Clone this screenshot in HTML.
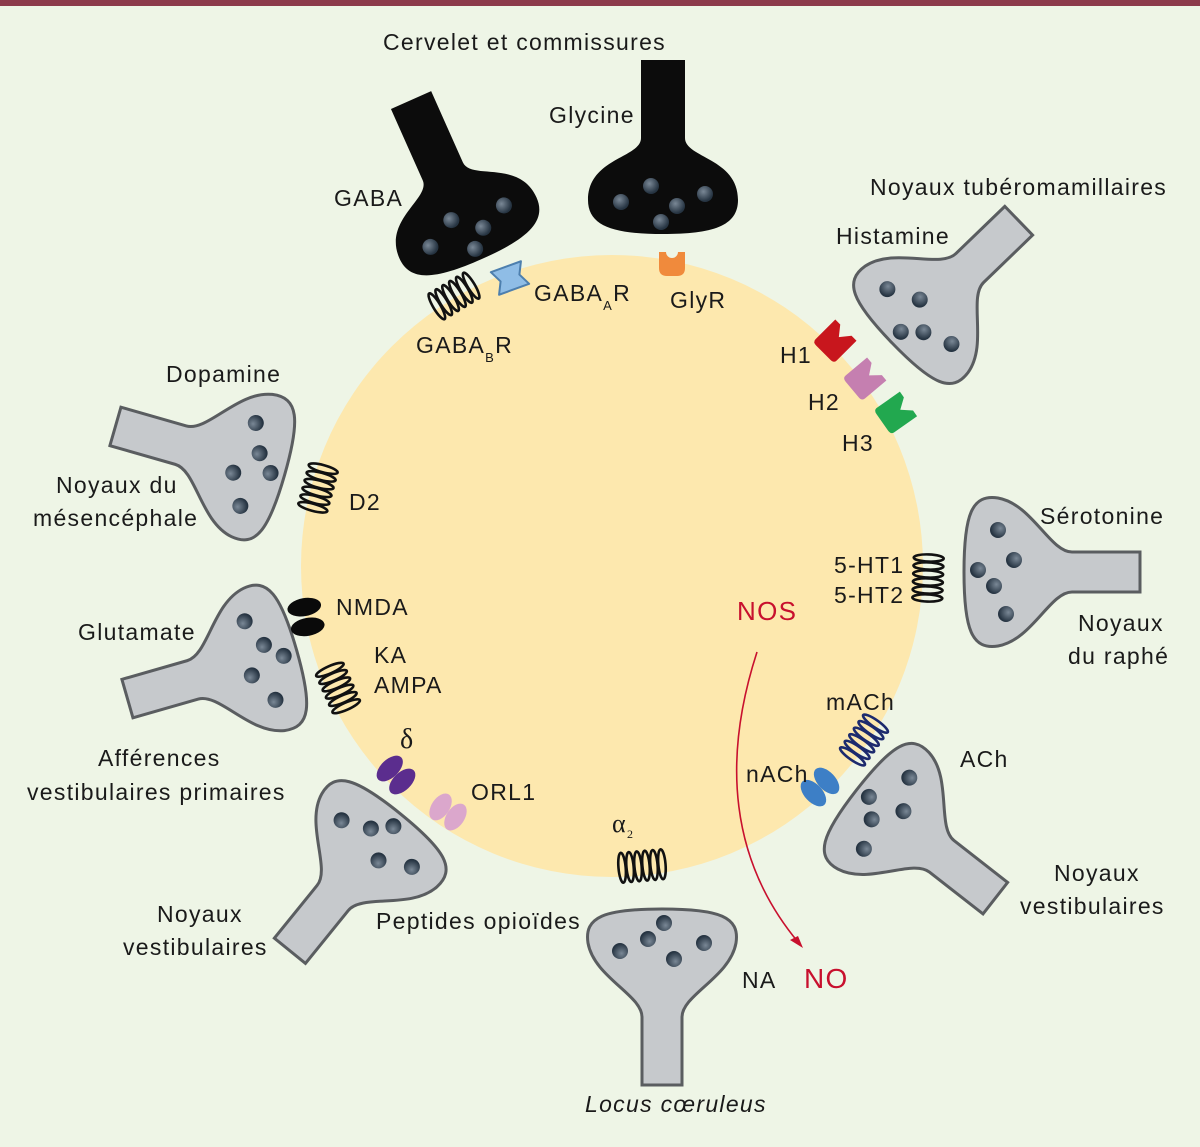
<!DOCTYPE html>
<html><head><meta charset="utf-8"><style>
html,body{margin:0;padding:0;background:#eef5e6;}
svg{display:block;}
text{font-family:"Liberation Sans",sans-serif;font-size:23px;fill:#1a1a1a;letter-spacing:1.3px;}
</style></head><body>
<svg width="1200" height="1147" viewBox="0 0 1200 1147" xmlns="http://www.w3.org/2000/svg">
<defs>
<radialGradient id="ves" cx="0.4" cy="0.35" r="0.6"><stop offset="0" stop-color="#7a8896"/><stop offset="1" stop-color="#263442"/></radialGradient>
<g id="dots">
<circle cx="-42" cy="2" r="8" fill="url(#ves)"/><circle cx="-12" cy="-14" r="8" fill="url(#ves)"/>
<circle cx="14" cy="6" r="8" fill="url(#ves)"/><circle cx="42" cy="-6" r="8" fill="url(#ves)"/>
<circle cx="-2" cy="22" r="8" fill="url(#ves)"/>
</g>
<g id="gterm">
<path d="M -20,-140 L -20,-72 C -20,-50 -68,-32 -74,2 C -78,28 -58,36 0,36 C 58,36 78,28 74,2 C 68,-32 20,-50 20,-72 L 20,-140 Z" fill="#c6c9cc" stroke="#5a5d60" stroke-width="3"/>
<use href="#dots"/>
</g>
<g id="bterm">
<path d="M -22,-140 L -22,-62 C -22,-42 -75,-42 -75,0 C -75,26 -50,34 0,34 C 50,34 75,26 75,0 C 75,-42 22,-42 22,-62 L 22,-140 Z" fill="#0c0c0c"/>
<use href="#dots"/>
</g>
<g id="gpcr" fill="none" stroke-width="2.6">
<ellipse cx="-20" cy="0" rx="3.6" ry="15"/><ellipse cx="-12" cy="0" rx="3.6" ry="15"/>
<ellipse cx="-4" cy="0" rx="3.6" ry="15"/><ellipse cx="4" cy="0" rx="3.6" ry="15"/>
<ellipse cx="12" cy="0" rx="3.6" ry="15"/><ellipse cx="20" cy="0" rx="3.6" ry="15"/>
</g>
<path id="cup" d="M -15,-14 Q -15,-18 -10,-18 L 10,-18 Q 15,-18 15,-14 L 15,14 L 8,14 L 0,4 L -8,14 L -15,14 Z"/>
</defs>
<rect x="0" y="0" width="1200" height="6" fill="#8c3b4b"/>
<circle cx="612" cy="566" r="311" fill="#fde8ae"/>

<use href="#bterm" transform="translate(468,228) rotate(-24)"/>
<use href="#bterm" transform="translate(663,200)"/>
<use href="#gterm" transform="translate(918,318) rotate(46)"/>
<use href="#gterm" transform="translate(250,465) rotate(-74)"/>
<use href="#gterm" transform="translate(1000,572) rotate(90)"/>
<use href="#gterm" transform="translate(262,660) rotate(-106)"/>
<use href="#gterm" transform="translate(885,812) rotate(128)"/>
<use href="#gterm" transform="translate(378,842) rotate(-141)"/>
<use href="#gterm" transform="translate(662,945) rotate(180)"/>

<use href="#gpcr" stroke="#111" transform="translate(454,296) rotate(-31)"/>
<use href="#gpcr" stroke="#111" transform="translate(318,488) rotate(105)"/>
<use href="#gpcr" stroke="#111" transform="translate(338,688) rotate(66)"/>
<use href="#gpcr" stroke="#111" transform="translate(642,866) rotate(-5)"/>
<use href="#gpcr" stroke="#1c2a6e" transform="translate(864,740) rotate(-55)"/>
<use href="#gpcr" stroke="#111" transform="translate(928,578) rotate(-88)"/>

<g transform="translate(510,278) rotate(-20)"><path d="M -16,-12 L 16,-12 L 10,0 L 16,12 L -16,12 L -10,0 Z" fill="#8fbde6" stroke="#4d7fae" stroke-width="2" stroke-linejoin="round"/></g>
<g transform="translate(672,264)"><path d="M -13,-12 L -6,-12 A 6 6 0 0 0 6,-12 L 13,-12 L 13,4 Q 13,12 5,12 L -5,12 Q -13,12 -13,4 Z" fill="#f08a3c"/></g>
<use href="#cup" fill="#c8161d" transform="translate(836,340) rotate(-135)"/>
<use href="#cup" fill="#c57fb0" transform="translate(866,378) rotate(-130)"/>
<use href="#cup" fill="#22a84f" transform="translate(897,412) rotate(-125)"/>

<g transform="translate(306,617) rotate(80)" fill="#0a0a0a"><ellipse cx="-10" cy="0" rx="9" ry="17"/><ellipse cx="10" cy="0" rx="9" ry="17"/></g>
<g transform="translate(396,775) rotate(46)" fill="#5b2d8e"><ellipse cx="-9" cy="0" rx="9" ry="16"/><ellipse cx="9" cy="0" rx="9" ry="16"/></g>
<g transform="translate(448,812) rotate(34)" fill="#dba7cc"><ellipse cx="-9" cy="0" rx="9" ry="15"/><ellipse cx="9" cy="0" rx="9" ry="15"/></g>
<g transform="translate(820,787) rotate(-43)" fill="#3d7fc6"><ellipse cx="-9" cy="0" rx="9" ry="16"/><ellipse cx="9" cy="0" rx="9" ry="16"/></g>

<path d="M 757,652 C 722,760 730,860 798,942" fill="none" stroke="#c8102e" stroke-width="1.6"/>
<path d="M 803,948 L 790,940 L 798,936 Z" fill="#c8102e"/>

<text x="383" y="50">Cervelet et commissures</text>
<text x="549" y="123">Glycine</text>
<text x="334" y="206">GABA</text>
<text x="870" y="195">Noyaux tubéromamillaires</text>
<text x="836" y="244">Histamine</text>
<text x="534" y="301">GABA<tspan font-size="13" dy="9">A</tspan><tspan dy="-9">R</tspan></text>
<text x="670" y="308">GlyR</text>
<text x="416" y="353">GABA<tspan font-size="13" dy="9">B</tspan><tspan dy="-9">R</tspan></text>
<text x="780" y="363">H1</text>
<text x="808" y="410">H2</text>
<text x="842" y="451">H3</text>
<text x="166" y="382">Dopamine</text>
<text x="56" y="493">Noyaux du</text>
<text x="33" y="526">mésencéphale</text>
<text x="349" y="510">D2</text>
<text x="1040" y="524">Sérotonine</text>
<text x="834" y="573">5-HT1</text>
<text x="834" y="603">5-HT2</text>
<text x="1078" y="631">Noyaux</text>
<text x="1068" y="664">du raphé</text>
<text x="737" y="620" style="fill:#c8102e;font-size:26px">NOS</text>
<text x="336" y="615">NMDA</text>
<text x="78" y="640">Glutamate</text>
<text x="374" y="663">KA</text>
<text x="374" y="693">AMPA</text>
<text x="826" y="710">mACh</text>
<text x="960" y="767">ACh</text>
<text x="98" y="766">Afférences</text>
<text x="27" y="800">vestibulaires primaires</text>
<text x="400" y="748" style="font-family:'Liberation Serif',serif;font-size:28px">δ</text>
<text x="746" y="782">nACh</text>
<text x="471" y="800">ORL1</text>
<text x="612" y="832" style="font-family:'Liberation Serif',serif;font-size:26px">α<tspan font-size="12" dy="6">2</tspan></text>
<text x="1054" y="881">Noyaux</text>
<text x="1020" y="914">vestibulaires</text>
<text x="157" y="922">Noyaux</text>
<text x="123" y="955">vestibulaires</text>
<text x="376" y="929">Peptides opioïdes</text>
<text x="742" y="988">NA</text>
<text x="804" y="988" style="fill:#c8102e;font-size:28px">NO</text>
<text x="585" y="1112" font-style="italic">Locus cœruleus</text>
</svg>
</body></html>
